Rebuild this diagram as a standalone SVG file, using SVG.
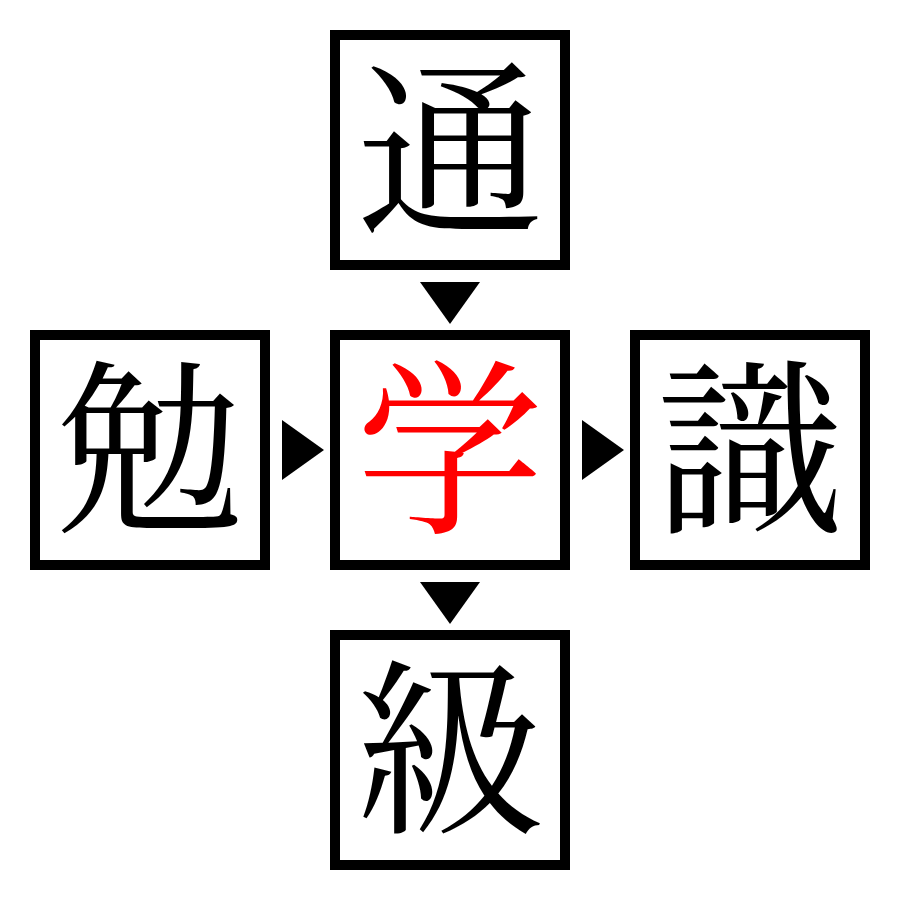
<svg xmlns="http://www.w3.org/2000/svg" width="900" height="900" viewBox="0 0 900 900">
<style>
.box{fill:#fff;stroke:#000;stroke-width:10}
.ch{font-family:"Noto Serif CJK JP","Noto Sans CJK JP",serif;font-size:188px;text-anchor:middle;fill:#000}
.red{fill:#ff0000}
.arr{fill:#000}
</style>
<rect width="900" height="900" fill="#fff"/>
<g id="node-top"><rect class="box" x="335" y="35" width="230" height="230"/><text class="ch" x="450" y="218">通</text></g>
<g id="node-left"><rect class="box" x="35" y="335" width="230" height="230"/><text class="ch" x="150" y="518">勉</text></g>
<g id="node-center"><rect class="box" x="335" y="335" width="230" height="230"/><text class="ch red" x="450" y="518">学</text></g>
<g id="node-right"><rect class="box" x="635" y="335" width="230" height="230"/><text class="ch" x="750" y="518">識</text></g>
<g id="node-bottom"><rect class="box" x="335" y="635" width="230" height="230"/><text class="ch" x="450" y="818">級</text></g>
<g id="connectors">
<polygon class="arr" points="420,282 480,282 450,324"/>
<polygon class="arr" points="282,420 282,480 324,450"/>
<polygon class="arr" points="582,420 582,480 624,450"/>
<polygon class="arr" points="420,582 480,582 450,624"/>
</g>
</svg>
